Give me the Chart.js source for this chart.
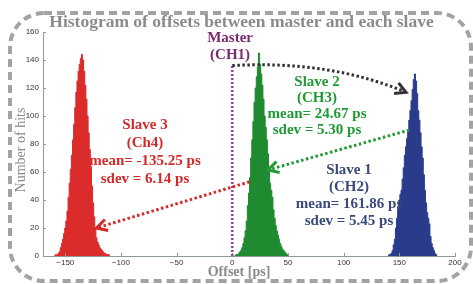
<!DOCTYPE html>
<html><head><meta charset="utf-8">
<script src="https://cdn.jsdelivr.net/npm/chart.js@4/dist/chart.umd.min.js"></script>
<style>html,body{margin:0;padding:0;background:#fff}</style>
</head><body>
<canvas id="c" width="473" height="284"></canvas>
<script>
// ---- data (1 ps bins) ----
const slave3Offsets = [-160,-158,-157,-156,-155,-154,-153,-152,-151,-150,-149,-148,-147,-146,-145,-144,-143,-142,-141,-140,-139,-138,-137,-136,-135,-134,-133,-132,-131,-130,-129,-128,-127,-126,-125,-124,-123,-122,-121,-120,-119,-118,-117,-116,-115,-114,-113,-112,-111,-110];
const slave3Hits    = [0,1,1,2,3,6,9,12,16,20,25,32,42,52,62,72,83,94,106,117,125,132,137,141,144,140,132,122,112,100,88,76,64,50,38,28,20,13,10,8,6,5,4,3,2,2,1,1,1,0];

const slave2Offsets = [2,4,5,6,7,8,9,10,11,12,13,14,15,16,17,18,19,20,21,22,23,24,25,26,27,28,29,30,31,32,33,34,35,36,37,38,39,40,41,42,43,44,45,46,47,48,49,50,51];
const slave2Hits    = [0,1,1,2,3,4,6,9,13,18,25,36,45,56,70,83,96,110,120,128,135,145,137,130,122,112,100,92,83,73,63,52,47,42,33,27,22,18,15,12,9,7,5,4,3,2,1,1,0];

const slave1Offsets = [140,141,142,143,144,145,146,147,148,149,150,151,152,153,154,155,156,157,158,159,160,161,162,163,164,165,166,167,168,169,170,171,172,173,174,175,176,177,178,179,180,181,182,183,184];
const slave1Hits    = [0,1,1,2,4,8,12,20,27,34,40,44,47,55,63,72,78,84,90,97,104,111,119,126,130,125,116,104,97,88,78,70,58,47,38,31,27,23,14,9,6,4,2,1,0];

const xTickValues = [-150,-100,-50,0,50,100,150,200];
const yTickValues = [0,20,40,60,80,100,120,140,160];

const titleText = 'Histogram of offsets between master and each slave';
const xTitle = 'Offset [ps]';
const yTitle = 'Number of hits';

const masterLabel = ['Master','(CH1)'];
const slave2Label = ['Slave 2','(CH3)','mean= 24.67 ps','sdev = 5.30 ps'];
const slave3Label = ['Slave 3','(Ch4)','mean= -135.25 ps','sdev = 6.14 ps'];
const slave1Label = ['Slave 1','(CH2)','mean= 161.86 ps','sdev = 5.45 ps'];

const RED = '#dc2b2b', GREEN = '#1f8a2f', BLUE = '#2a3b8c';

function pts(xs, ys){ return xs.map((x,i)=>({x:x, y:ys[i]})); }

function arrowHead(ctx, x, y, ang, len, color, w){
  ctx.save();
  ctx.setLineDash([]);
  ctx.strokeStyle = color; ctx.lineWidth = w; ctx.lineCap='butt'; ctx.lineJoin='miter';
  ctx.beginPath();
  ctx.moveTo(x - len*Math.cos(ang-0.5), y - len*Math.sin(ang-0.5));
  ctx.lineTo(x, y);
  ctx.lineTo(x - len*Math.cos(ang+0.5), y - len*Math.sin(ang+0.5));
  ctx.stroke();
  ctx.restore();
}

function roundRect(ctx, x, y, w, h, r){
  ctx.beginPath();
  ctx.moveTo(x+r, y);
  ctx.lineTo(x+w-r, y);
  ctx.arcTo(x+w, y, x+w, y+r, r);
  ctx.lineTo(x+w, y+h-r);
  ctx.arcTo(x+w, y+h, x+w-r, y+h, r);
  ctx.lineTo(x+r, y+h);
  ctx.arcTo(x, y+h, x, y+h-r, r);
  ctx.lineTo(x, y+r);
  ctx.arcTo(x, y, x+r, y, r);
  ctx.closePath();
}

const deco = {
  id: 'deco',
  beforeDraw(chart){
    const ctx = chart.ctx;
    ctx.save(); ctx.fillStyle = '#fff'; ctx.fillRect(0,0,chart.width,chart.height); ctx.restore();
  },
  afterDatasetsDraw(chart){
    const ctx = chart.ctx, xs = chart.scales.x, ys = chart.scales.y;
    const X = v => xs.getPixelForValue(v), Y = v => ys.getPixelForValue(v);
    const ca = chart.chartArea;
    ctx.save();
    // inward ticks
    ctx.strokeStyle = '#8e989f'; ctx.lineWidth = 1;
    xTickValues.forEach(v => { const px = Math.round(X(v))+0.5; ctx.beginPath(); ctx.moveTo(px, ca.bottom); ctx.lineTo(px, ca.bottom-3); ctx.stroke(); });
    yTickValues.forEach(v => { const py = Math.round(Y(v))+0.5; ctx.beginPath(); ctx.moveTo(ca.left, py); ctx.lineTo(ca.left+3, py); ctx.stroke(); });

    ctx.lineCap = 'butt';
    // master dotted vertical line
    ctx.setLineDash([2,2]); ctx.lineWidth = 2.5; ctx.strokeStyle = '#a23a9c';
    ctx.beginPath(); ctx.moveTo(X(0), Y(0)); ctx.lineTo(X(0), Y(136)); ctx.stroke();

    // black dotted curve master -> slave1
    ctx.strokeStyle = '#333'; ctx.lineWidth = 3; ctx.setLineDash([2.5,2.5]);
    const bx0 = X(0), by0 = Y(136), bcx = X(87), bcy = Y(140), bx1 = X(156), by1 = Y(117);
    ctx.beginPath(); ctx.moveTo(bx0, by0); ctx.quadraticCurveTo(bcx, bcy, bx1, by1); ctx.stroke();
    arrowHead(ctx, bx1, by1, Math.atan2(by1-bcy, bx1-bcx), 12, '#333', 3);

    // green dotted: slave1 -> slave2
    ctx.setLineDash([2.5,2.5]); ctx.strokeStyle = '#1f9a35'; ctx.lineWidth = 3;
    const gx0 = X(159), gy0 = Y(90), gx1 = X(32), gy1 = Y(61.5);
    ctx.beginPath(); ctx.moveTo(gx0, gy0); ctx.lineTo(gx1, gy1); ctx.stroke();
    arrowHead(ctx, gx1, gy1, Math.atan2(gy1-gy0, gx1-gx0), 12, '#1f9a35', 3);

    // red dotted: slave2 -> slave3
    ctx.setLineDash([2.5,2.5]); ctx.strokeStyle = '#d42a2a'; ctx.lineWidth = 3;
    const rx0 = X(15.5), ry0 = Y(53), rx1 = X(-122), ry1 = Y(20);
    ctx.beginPath(); ctx.moveTo(rx0, ry0); ctx.lineTo(rx1, ry1); ctx.stroke();
    arrowHead(ctx, rx1, ry1, Math.atan2(ry1-ry0, rx1-rx0), 12, '#d42a2a', 3);
    ctx.setLineDash([]);

    // labels
    ctx.textAlign = 'center'; ctx.textBaseline = 'middle';
    ctx.font = 'bold 15px "Liberation Serif"';
    ctx.fillStyle = '#7a2a70';
    masterLabel.forEach((t,i)=> ctx.fillText(t, X(-2), 38.5 + i*16.5));
    ctx.fillStyle = '#1f9a35';
    slave2Label.forEach((t,i)=> ctx.fillText(t, 317, 82 + i*16.2));
    ctx.fillStyle = '#d42a2a';
    slave3Label.forEach((t,i)=> ctx.fillText(t, 145, 125 + i*18));
    ctx.fillStyle = '#3b4a7c';
    slave1Label.forEach((t,i)=> ctx.fillText(t, 349, 170 + i*17));
    ctx.restore();
  },
  afterDraw(chart){
    const ctx = chart.ctx;
    ctx.save();
    // dashed rounded border
    ctx.strokeStyle = '#a3a3a3'; ctx.lineWidth = 4; ctx.setLineDash([8,5]);
    roundRect(ctx, 10, 13, 461, 268, 34); ctx.stroke();
    ctx.setLineDash([]);
    // title
    ctx.fillStyle = '#8a8a8a'; ctx.textAlign = 'center'; ctx.textBaseline = 'middle';
    ctx.font = 'bold 17.5px "Liberation Serif"';
    ctx.fillText(titleText, 241.5, 22);
    // x title
    ctx.font = 'bold 14px "Liberation Serif"';
    ctx.fillText(xTitle, 239, 272);
    // y title
    ctx.font = '14px "Liberation Serif"';
    ctx.translate(21.5, 150); ctx.rotate(-Math.PI/2);
    ctx.fillText(yTitle, 0, 0);
    ctx.restore();
  }
};

const ds = (label, xs, ys, color) => ({
  label, data: pts(xs, ys), stepped: 'middle', fill: 'origin',
  backgroundColor: color, borderColor: color, borderWidth: 1, pointRadius: 0
});

new Chart(document.getElementById('c'), {
  type: 'line',
  data: { datasets: [
    ds('Slave 3 (Ch4)', slave3Offsets, slave3Hits, RED),
    ds('Slave 2 (CH3)', slave2Offsets, slave2Hits, GREEN),
    ds('Slave 1 (CH2)', slave1Offsets, slave1Hits, BLUE)
  ]},
  options: {
    responsive: false, animation: false, devicePixelRatio: 1,
    layout: { padding: { left: 0, top: 32, right: 18, bottom: 0 } },
    plugins: { legend: { display: false }, tooltip: { enabled: false }, title: { display: false } },
    scales: {
      x: {
        type: 'linear', min: -170, max: 200,
        afterBuildTicks: s => { s.ticks = xTickValues.map(v => ({ value: v })); },
        afterFit: s => { s.height = 28; },
        ticks: { color: '#333', font: { family: 'Liberation Sans', size: 8 }, padding: 2, maxRotation: 0, autoSkip: false,
                 callback: v => (v < 0 ? '\u2212' + Math.abs(v) : String(v)) },
        grid: { display: true, drawOnChartArea: false, drawTicks: false },
        border: { color: '#8e989f', width: 1 }
      },
      y: {
        type: 'linear', min: 0, max: 160,
        afterBuildTicks: s => { s.ticks = yTickValues.map(v => ({ value: v })); },
        afterFit: s => { s.width = 43; },
        ticks: { color: '#333', font: { family: 'Liberation Sans', size: 8 }, padding: 4, autoSkip: false },
        grid: { display: true, drawOnChartArea: false, drawTicks: false },
        border: { color: '#8e989f', width: 1 }
      }
    }
  },
  plugins: [deco]
});
</script>
</body></html>
